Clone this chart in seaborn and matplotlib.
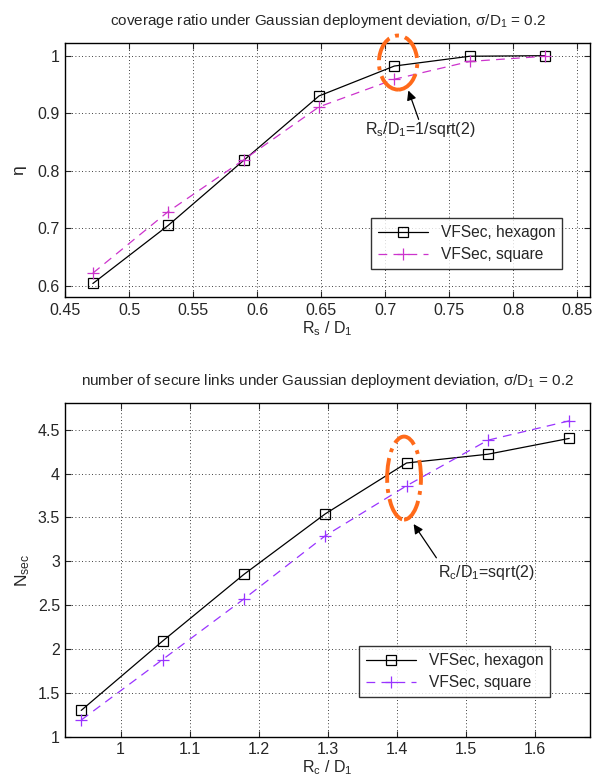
import numpy as np
import pandas as pd
import matplotlib
matplotlib.use("Agg")
import matplotlib.pyplot as plt
import seaborn as sns
from matplotlib.patches import Ellipse

# ---- data ----
rs_d1 = [0.4714, 0.5303, 0.5893, 0.6482, 0.7071, 0.7660, 0.8250]
eta_hexagon = [0.604, 0.705, 0.818, 0.930, 0.982, 0.999, 1.000]
eta_square = [0.622, 0.729, 0.819, 0.911, 0.959, 0.990, 0.999]

rc_d1 = [0.9428, 1.0607, 1.1785, 1.2964, 1.4142, 1.5321, 1.6499]
nsec_hexagon = [1.30, 2.09, 2.85, 3.54, 4.12, 4.22, 4.40]
nsec_square = [1.19, 1.88, 2.57, 3.29, 3.86, 4.38, 4.60]

top_xticks = [0.45, 0.5, 0.55, 0.6, 0.65, 0.7, 0.75, 0.8, 0.85]
top_yticks = [0.6, 0.7, 0.8, 0.9, 1.0]
top_yticklabels = ["0.6", "0.7", "0.8", "0.9", "1"]
bot_xticks = [1.0, 1.1, 1.2, 1.3, 1.4, 1.5, 1.6]
bot_xticklabels = ["1", "1.1", "1.2", "1.3", "1.4", "1.5", "1.6"]
bot_yticks = [1, 1.5, 2, 2.5, 3, 3.5, 4, 4.5]
bot_yticklabels = ["1", "1.5", "2", "2.5", "3", "3.5", "4", "4.5"]

labels = ["VFSec, hexagon", "VFSec, square"]

sns.set_style("white")
plt.rcParams["font.family"] = ["Liberation Sans", "DejaVu Sans"]
plt.rcParams["mathtext.fontset"] = "custom"
plt.rcParams["mathtext.rm"] = "Liberation Sans"
plt.rcParams["mathtext.it"] = "Liberation Sans"

fig = plt.figure(figsize=(5.92, 7.83), dpi=100)
ax1 = fig.add_axes([0.1106, 0.6203, 0.886, 0.3244])
ax2 = fig.add_axes([0.1106, 0.0591, 0.886, 0.4258])

ORANGE = "#ff6a1a"


def style_axes(ax):
    ax.grid(True, linestyle=(0, (1, 3)), color="black", linewidth=0.6)
    ax.tick_params(direction="in", length=4, width=0.8, labelsize=11.5,
                   top=True, right=True, bottom=True, left=True, pad=4)
    for s in ax.spines.values():
        s.set_linewidth(1.0)
        s.set_color("black")


def draw(ax, x, yh, ys, sq_color):
    dh = pd.DataFrame({"x": x, "y": yh})
    ds = pd.DataFrame({"x": x, "y": ys})
    sns.lineplot(data=dh, x="x", y="y", ax=ax, color="black", linewidth=0.9,
                 marker="s", markersize=7, markerfacecolor="none",
                 markeredgecolor="black", markeredgewidth=0.9, label=labels[0])
    sns.lineplot(data=ds, x="x", y="y", ax=ax, color=sq_color, linewidth=0.9,
                 marker="+", markersize=9, markeredgewidth=0.9,
                 markeredgecolor=sq_color, markerfacecolor=sq_color,
                 label=labels[1])
    ax.lines[-1].set_linestyle((0, (7, 5)))


# ---- top plot ----
draw(ax1, rs_d1, eta_hexagon, eta_square, "#cc33cc")
ax1.set_xlim(0.45, 0.86)
ax1.set_ylim(0.58, 1.0215)
ax1.set_xticks(top_xticks)
ax1.set_xticklabels([f"{v:g}" for v in top_xticks])
ax1.set_yticks(top_yticks)
ax1.set_yticklabels(top_yticklabels)
style_axes(ax1)
ax1.set_title(r"coverage ratio under Gaussian deployment deviation, $\sigma$/D$_1$ = 0.2",
              fontsize=11, pad=13)
ax1.set_xlabel(r"R$_\mathrm{s}$ / D$_1$", fontsize=11.5, labelpad=1)
ax1.set_ylabel(r"$\eta$", fontsize=12.5, labelpad=6)
leg1 = ax1.legend(loc="lower right", bbox_to_anchor=(0.962, 0.08), fontsize=11.2,
                  frameon=True, fancybox=False, edgecolor="black",
                  handlelength=3.2, borderpad=0.45, labelspacing=0.45)
leg1.get_frame().set_linewidth(1.0)
e1 = Ellipse((0.710, 0.988), 0.030, 0.094, fill=False, edgecolor=ORANGE,
             linewidth=2.8, linestyle="-.", clip_on=False, zorder=5)
ax1.add_patch(e1)
ax1.annotate("", xy=(0.7173, 0.944), xytext=(0.7268, 0.8847),
             arrowprops=dict(arrowstyle="-|>", color="black", lw=0.9,
                             mutation_scale=14))
ax1.text(0.7276, 0.871, r"R$_\mathrm{s}$/D$_1$=1/sqrt(2)", fontsize=11.5,
         ha="center", va="center")

# ---- bottom plot ----
draw(ax2, rc_d1, nsec_hexagon, nsec_square, "#9933ff")
ax2.set_xlim(0.92, 1.68)
ax2.set_ylim(1, 4.8)
ax2.set_xticks(bot_xticks)
ax2.set_xticklabels(bot_xticklabels)
ax2.set_yticks(bot_yticks)
ax2.set_yticklabels(bot_yticklabels)
style_axes(ax2)
ax2.set_title(r"number of secure links under Gaussian deployment deviation, $\sigma$/D$_1$ = 0.2",
              fontsize=11, pad=13)
ax2.set_xlabel(r"R$_\mathrm{c}$ / D$_1$", fontsize=11.5, labelpad=1)
ax2.set_ylabel(r"N$_\mathrm{sec}$", fontsize=12.5, labelpad=4)
leg2 = ax2.legend(loc="lower right", bbox_to_anchor=(0.939, 0.095), fontsize=11.2,
                  frameon=True, fancybox=False, edgecolor="black",
                  handlelength=3.2, borderpad=0.45, labelspacing=0.45)
leg2.get_frame().set_linewidth(1.0)
e2 = Ellipse((1.4106, 3.948), 0.049, 0.946, fill=False, edgecolor=ORANGE,
             linewidth=2.8, linestyle="-.", clip_on=False, zorder=5)
ax2.add_patch(e2)
ax2.annotate("", xy=(1.4222, 3.45), xytext=(1.4597, 3.013),
             arrowprops=dict(arrowstyle="-|>", color="black", lw=0.9,
                             mutation_scale=14))
ax2.text(1.530, 2.876, r"R$_\mathrm{c}$/D$_1$=sqrt(2)", fontsize=11.5,
         ha="center", va="center")

fig.savefig("out.png", dpi=100)
